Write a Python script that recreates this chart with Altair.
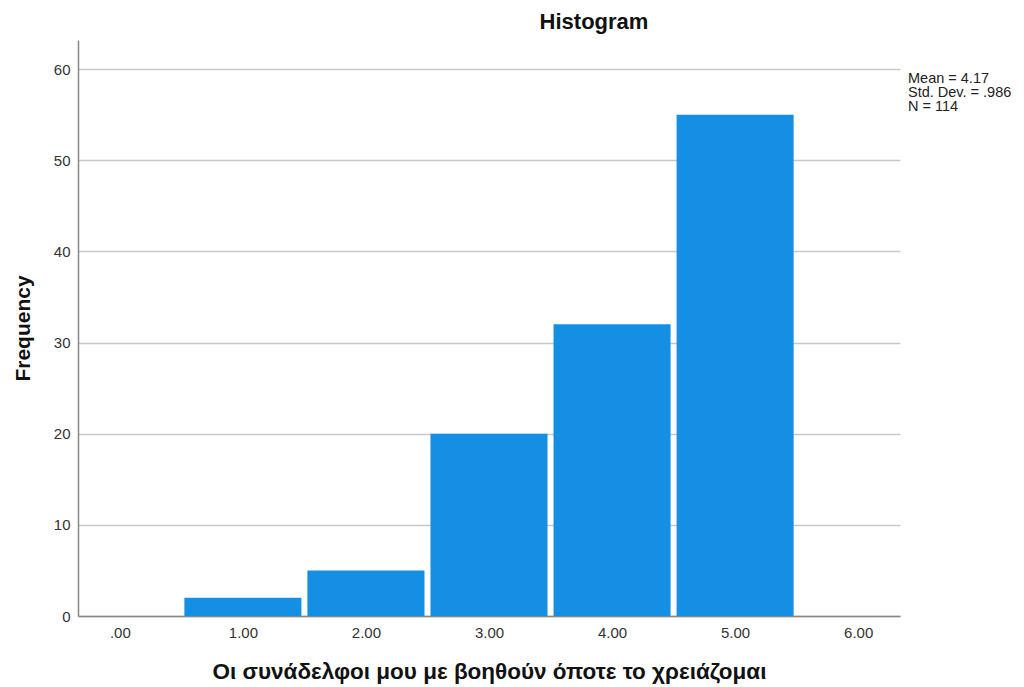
import altair as alt
import pandas as pd

values = [1, 2, 3, 4, 5]
counts = [2, 5, 20, 32, 55]
stats_lines = ["Mean = 4.17", "Std. Dev. = .986", "N = 114"]
x_title = "Οι συνάδελφοι μου με βοηθούν όποτε το χρειάζομαι"

df = pd.DataFrame({"v": values, "n": counts})
df["lo"] = df["v"] - 0.5
df["hi"] = df["v"] + 0.5
stats = pd.DataFrame({"t": ["\n".join(stats_lines)]})

FONT = "Liberation Sans"
xscale = alt.Scale(domain=[-0.34, 6.34], nice=False, zero=False)
yscale = alt.Scale(domain=[0, 63.2], nice=False)

bars = alt.Chart(df).mark_bar(color="#148fe4", xOffset=3, x2Offset=-3).encode(
    x=alt.X("lo:Q", scale=xscale,
            axis=alt.Axis(values=[0, 1, 2, 3, 4, 5, 6], grid=False, ticks=False,
                          labelExpr="datum.value == 0 ? '.00' : format(datum.value, '.2f')",
                          labelFont=FONT, labelFontSize=15, labelColor="#333333",
                          labelPadding=9, domainColor="#888888", domainWidth=1.5,
                          title=x_title, titleFont=FONT, titleFontSize=22.5,
                          titleFontWeight="bold", titleColor="#111111", titlePadding=20)),
    x2="hi:Q",
    y=alt.Y("n:Q", scale=yscale,
            axis=alt.Axis(values=[0, 10, 20, 30, 40, 50, 60], grid=True, gridColor="#c8c8c8",
                          gridWidth=1.3, ticks=False, labelFont=FONT, labelFontSize=15,
                          labelColor="#333333", labelPadding=8, domainColor="#888888",
                          domainWidth=1.5, title="Frequency", titleFont=FONT,
                          titleFontSize=21, titleFontWeight="bold", titleColor="#111111",
                          titlePadding=20)),
    y2=alt.datum(0),
)

txt = alt.Chart(stats).mark_text(align="left", baseline="top", font=FONT, fontSize=14.5,
                                  lineBreak="\n", lineHeight=14,
                                  color="#222222").encode(
    x=alt.value(830),
    y=alt.value(32),
    text="t:N",
)

chart = alt.layer(bars, txt).properties(
    width=822, height=576,
    title=alt.TitleParams("Histogram", font=FONT, fontSize=22, fontWeight="bold",
                          color="#111111", dx=105, offset=6),
    autosize=alt.AutoSizeParams(type="none"),
    padding={"left": 70, "top": 32, "right": 116, "bottom": 70},
).configure_view(stroke=None)

chart.save("out.html", embed_options={"renderer": "svg", "actions": False})
